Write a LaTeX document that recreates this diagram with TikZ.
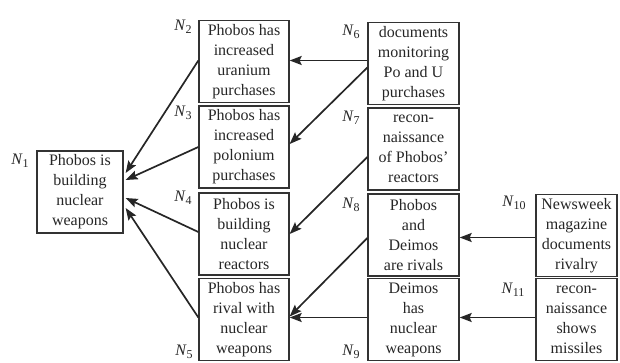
\documentclass[tikz,border=0pt]{standalone}
\usepackage{fontspec}
\setmainfont{Liberation Serif}
\usetikzlibrary{arrows.meta}
\newcommand{\nlab}[1]{{\itshape N}\kern0.5pt\raisebox{-3.5pt}{\fontsize{12}{12}\selectfont #1}}
\begin{document}
\begin{tikzpicture}[x=1pt,y=-1pt,
  box/.style={draw=black!80, line width=1.3pt, text=black!85, align=center,
    inner sep=0pt, font=\fontsize{16}{20}\selectfont},
  w2/.style={minimum width=90pt, minimum height=82pt},
  w3/.style={minimum width=91pt, minimum height=82pt},
  w4/.style={minimum width=81pt, minimum height=82pt},
  lab/.style={text=black!85, inner sep=0pt, font=\fontsize{16}{16}\selectfont},
  arr/.style={draw=black!85, line width=1.7pt, -{Stealth[length=12pt,width=9pt,inset=2pt]}}]
\useasboundingbox (0,0) rectangle (620,363);
% boxes
\node[box, minimum width=86pt, minimum height=82pt] (n1) at (80,192) {Phobos is\\building\\nuclear\\weapons};
\node[box, w2] (n2) at (244,61.5) {Phobos has\\increased\\uranium\\purchases};
\node[box, w2] (n3) at (244,147) {Phobos has\\increased\\polonium\\purchases};
\node[box, w2] (n4) at (244,234) {Phobos is\\building\\nuclear\\reactors};
\node[box, w2] (n5) at (244,319.5) {Phobos has\\rival with\\nuclear\\weapons};
\node[box, w3] (n6) at (413.5,63.5) {documents\\monitoring\\Po and U\\purchases};
\node[box, w3] (n7) at (413.5,149) {recon-\\naissance\\of Phobos'\\reactors};
\node[box, w3] (n8) at (413.5,235) {Phobos\\and\\Deimos\\are rivals};
\node[box, w3] (n9) at (413.5,319.5) {Deimos\\has\\nuclear\\weapons};
\node[box, w4] (n10) at (576.5,235.5) {Newsweek\\magazine\\documents\\rivalry};
\node[box, w4] (n11) at (576.5,319.5) {recon-\\naissance\\shows\\missiles};
% labels
\node[lab] (l1) at (20,161) {\nlab{1}};
\node[lab] (l2) at (183,27) {\nlab{2}};
\node[lab] (l3) at (183,113) {\nlab{3}};
\node[lab] (l4) at (183,198) {\nlab{4}};
\node[lab] (l5) at (184,352) {\nlab{5}};
\node[lab] (l6) at (351,32) {\nlab{6}};
\node[lab] (l7) at (351,118) {\nlab{7}};
\node[lab] (l8) at (351,205) {\nlab{8}};
\node[lab] (l9) at (351,352) {\nlab{9}};
\node[lab] (l10) at (514,203) {\nlab{10}};
\node[lab] (l11) at (513,290) {\nlab{11}};
% connectors
\draw[arr] ([yshift=1pt]n2.west) -- ([xshift=2pt,yshift=19pt]n1.east);
\draw[arr] (n3.west) -- ([xshift=2pt,yshift=12pt]n1.east);
\draw[arr] ([yshift=2pt]n4.west) -- ([xshift=2pt,yshift=-6pt]n1.east);
\draw[arr] ([yshift=2pt]n5.west) -- ([xshift=2pt,yshift=-16pt]n1.east);
\draw[arr] ([yshift=3pt]n6.west) -- ([yshift=3pt]n6.west -| n2.east);
\draw[arr] ([yshift=-4pt]n6.west) -- ([yshift=3pt]n3.east);
\draw[arr] ([yshift=-8pt]n7.west) -- (n4.east);
\draw[arr] ([yshift=-3pt]n8.west) -- ([yshift=3pt]n5.east);
\draw[arr] ([yshift=2pt]n9.west) -- ([yshift=2pt]n9.west -| n5.east);
\draw[arr] ([yshift=-2pt]n10.west) -- ([yshift=-2pt]n10.west -| n8.east);
\draw[arr] ([yshift=2pt]n11.west) -- ([yshift=2pt]n11.west -| n9.east);
\end{tikzpicture}
\end{document}
